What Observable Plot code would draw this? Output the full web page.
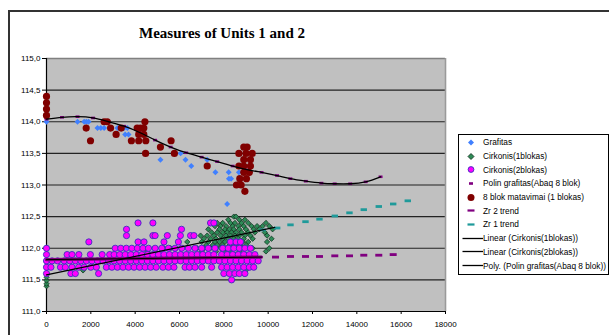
<!DOCTYPE html>
<html><head><meta charset="utf-8">
<script src="https://cdn.jsdelivr.net/npm/d3@7"></script>
<script src="https://cdn.jsdelivr.net/npm/@observablehq/plot@0.6"></script>
<style>
body{margin:0;width:609px;height:335px;overflow:hidden;background:#fff;position:relative;font-family:"Liberation Sans",Arial,sans-serif}
#frame{position:absolute;left:8px;top:10px;width:700px;height:400px;border:2px solid #333;box-sizing:border-box}
#chart{position:absolute;left:0;top:0}
#title{position:absolute;left:0;top:25px;width:444px;text-align:center;font:bold 15px/17px "Liberation Serif","Times New Roman",serif;color:#000}
#legend{position:absolute;left:458px;top:134px;width:151px;height:141px;border:1px solid #000;box-sizing:border-box;background:#fff;font-size:8.3px;padding-top:0.5px;color:#000}
.li{height:13.7px;display:flex;align-items:center;white-space:nowrap}
.li svg{flex:none;display:block}
</style></head><body>
<div id="frame"></div>
<div id="chart"></div>
<div id="title">Measures of Units 1 and 2</div>
<div id="legend"></div>
<script>
// ---- data ----
const xTicks = [0, 2000, 4000, 6000, 8000, 10000, 12000, 14000, 16000, 18000];
const yTicks = [111.0, 111.5, 112.0, 112.5, 113.0, 113.5, 114.0, 114.5, 115.0];

const grafitas = [[0,114.0],[1400,114.0],[1700,114.0],[1800,114.0],[1900,114.0],[2300,113.9],[2450,113.9],[2600,113.9],
  [3200,113.9],[3500,113.9],[3650,113.9],[3550,113.8],[3700,113.8],[5140,113.4],[6050,113.5],[6270,113.4],[6530,113.3],
  [7250,113.4],[7620,113.2],[8220,113.2],[8230,113.1],[8330,113.1],[8680,113.2],[8600,113.0],[8150,112.7]];

const cirk1Rows = [
  [111.40,[0]],[111.44,[0]],[111.49,[0]],[111.54,[0]],
  [112.5,[8450,8550]],
  [112.45,[8200,8700,8950]],
  [112.4,[7400,7700,7950,8300,8500,8800,9100,9900]],
  [112.35,[7600,7850,8100,8400,8650,8900,9250,9500,9750,10050]],
  [112.3,[7300,7800,8050,8250,8450,8700,9000,9350,9600,10200]],
  [112.25,[7450,7700,7950,8150,8350,8550,8800,9100,9400,9850]],
  [112.2,[6950,7250,7550,7850,8100,8300,8500,8700,8950,9200,9950]],
  [112.15,[7100,7400,7650,7950,8200,8450,8650,8900,9300,10150]],
  [112.1,[6350,7000,7300,7600,7800,8050,8350,8600,8850,9100,9950]],
  [112.05,[7200,7500,7700,7950,8250,8500,8750,9000]],
  [112.0,[5300,5600,6800,7100,7400,7850,8100,8400,8800,9300,10050]],
  [111.95,[4550,7000,7650,8000,8300,8700,9900]],
  [111.9,[6600,7300,7900,8500,9000]],
  [111.8,[7100,8700,9100]],
  [111.7,[6500,9200]],
  [111.65,[1650,9000]],
  [111.6,[8900]]
];

const cirk2Rows = [
  [112.4,[4130,4800,7400,7550]],
  [112.3,[3610,6090]],
  [112.2,[3610,4800,4900,5450,6040,6500,6650]],
  [112.1,[1910,4130,4400,5300,5950,8300,8550,8750]],
  [112.0,[0,3100,3350,3600,3850,4100,4350,4600,4900,5200,5500,5800,6100,6400,6700,7000,7300,7600,7950,8200,8450,8700,8950,9200]],
  [111.9,[0,930,1150,1460,1980,2510,2850,3050,3300,3550,3800,4050,4300,4550,4800,5050,5300,5550,5800,6050,6300,6550,6800,7050,7300,7550,7900,8150,8400,8650,8900,9150,9400]],
  [111.8,[0,250,500,800,1050,1300,1550,1800,2050,2300,2550,2800,3050,3300,3550,3800,4050,4300,4550,4800,5050,5300,5550,5800,6050,6300,6550,6800,7050,7300,7550,7800,8050,8300,8550,8800,9050,9300,9550]],
  [111.7,[0,200,630,850,1150,1450,1700,2000,2250,2700,2950,3200,3450,3700,3950,4200,4450,4700,4950,5250,5500,5750,6250,6450,6700,7000,7450,7900,8150,8400,8650,8900,9150,9350]],
  [111.6,[0,1100,1300,2350,8000,8250,8500,8700,8950]],
  [111.5,[8350]]
];

const blok8 = [[0,114.4],[0,114.3],[0,114.2],[0,114.1],[1790,113.9],[1985,113.7],[2600,114.0],[2740,114.0],[2890,113.9],
  [3140,113.8],[3370,113.9],[3830,113.7],[4090,113.9],[4240,113.9],[4390,113.9],[4160,113.8],[4390,113.8],[4160,113.7],
  [4480,113.7],[4440,114.0],[4470,113.5],[5140,113.6],[5620,113.7],[5770,113.5],[7250,113.3],
  [8900,113.6],[9050,113.6],[8680,113.5],[9000,113.5],[9280,113.5],[8900,113.4],[9200,113.4],[8680,113.3],[8900,113.3],
  [9200,113.3],[8900,113.2],[9150,113.2],[8720,113.1],[9020,113.1],[8570,113.0],[8780,113.0],[8950,112.9]];

const polinX = [0,700,1400,2100,2800,3500,4200,4900,5600,6300,7000,7700,8400,9100,9700,10400,11000,11700,12400,13000,13700,14400,15070];
const polinY = [114.04,114.07,114.08,114.06,114.0,113.93,113.83,113.71,113.6,113.51,113.44,113.37,113.3,113.24,113.2,113.15,113.1,113.06,113.03,113.02,113.02,113.05,113.13];

const zr2BandX = [0, 9700];
const zr2BandY = [111.82, 111.86];
const zr2X = [10330,11007,11684,12315,13006,13668,14313,14990,15640];
const zr2Y = [111.86,111.87,111.87,111.87,111.88,111.88,111.89,111.89,111.90];

const zr1X = [9750,10407,11007,11684,12315,13006,13668,14313,14990,15640,16298];
const zr1Y = [112.29,112.32,112.37,112.42,112.46,112.51,112.56,112.61,112.66,112.70,112.75];

const lin1X = [0, 10300], lin1Y = [111.58, 112.33];
const lin2X = [0, 9700], lin2Y = [111.82, 111.86];

const legendItems = [
  ["Grafitas","diamond","#4080ff"],
  ["Cirkonis(1blokas)","diamondO","#2e8b57"],
  ["Cirkonis(2blokas)","circleO","#ff00ff"],
  ["Polin grafitas(Abaq 8 blok)","smalldash","#800080"],
  ["8 blok matavimai (1 blokas)","circle","#800000"],
  ["Zr 2 trend","dash","#800080"],
  ["Zr 1 trend","dash","#1f9a9a"],
  ["Linear (Cirkonis(1blokas))","line","#000"],
  ["Linear (Cirkonis(2blokas))","line","#000"],
  ["Poly. (Polin grafitas(Abaq 8 blok))","line","#000"]
];

// ---- build ----
const cirk1 = cirk1Rows.flatMap(([y, xs]) => xs.map(x => [x, y]));
const cirk2 = cirk2Rows.flatMap(([y, xs]) => xs.map(x => [x, y]));
const zip = (a, b) => a.map((v, i) => [v, b[i]]);
const polin = zip(polinX, polinY);
const zr2Band = zip(zr2BandX, zr2BandY), zr2 = zip(zr2X, zr2Y), zr1 = zip(zr1X, zr1Y);
const lin1 = zip(lin1X, lin1Y), lin2 = zip(lin2X, lin2Y);
const X = d => d[0], Y = d => d[1];
const dashSym = (hw, hh) => ({draw(ctx){ctx.moveTo(-hw,-hh);ctx.lineTo(hw,-hh);ctx.lineTo(hw,hh);ctx.lineTo(-hw,hh);ctx.closePath();}});
const fmt = d => d.toFixed(1).replace(".", ",");

const chart = Plot.plot({
  width: 609, height: 335,
  marginLeft: 46, marginRight: 164, marginTop: 58, marginBottom: 24,
  style: {background: "transparent", fontFamily: "Liberation Sans, Arial, sans-serif", fontSize: "8px", color: "#000"},
  x: {domain: [0, 18000], label: null},
  y: {domain: [111, 115], label: null},
  marks: [
    Plot.frame({fill: "#c0c0c0", stroke: null}),
    Plot.gridY(yTicks.filter(v => v > 111 && v < 115), {stroke: "#111", strokeOpacity: 0.9, strokeWidth: 1.1}),
    Plot.ruleY([115], {stroke: "#808080", strokeWidth: 1.6}),
    Plot.ruleX([18000], {stroke: "#9a9a9a", strokeWidth: 1.6}),
    Plot.axisY({ticks: yTicks, tickSize: 4, tickPadding: 2, tickFormat: fmt, label: null}),
    Plot.axisX({ticks: xTicks, tickSize: 3, tickPadding: 7, tickFormat: d => String(d), label: null}),
    Plot.ruleX([0], {stroke: "#000", strokeWidth: 1.2}),
    Plot.ruleY([111], {stroke: "#000", strokeWidth: 1.2}),
    Plot.dot(grafitas, {x: X, y: Y, symbol: "diamond2", r: 2.7, fill: "#4080ff"}),
    Plot.dot(cirk1, {x: X, y: Y, symbol: "diamond2", r: 2.4, fill: "#2e8b57", stroke: "#0b2a18", strokeWidth: 0.7}),
    Plot.dot(cirk2, {x: X, y: Y, r: 3.1, fill: "#ff00ff", stroke: "#3c2fc0", strokeWidth: 0.9}),
    Plot.dot(polin, {x: X, y: Y, symbol: dashSym(2, 1.3), fill: "#800080"}),
    Plot.dot(blok8, {x: X, y: Y, r: 3.6, fill: "#800000"}),
    Plot.line(zr2Band, {x: X, y: Y, stroke: "#800080", strokeWidth: 3.2}),
    Plot.dot(zr2, {x: X, y: Y, symbol: dashSym(3.5, 1.4), fill: "#800080"}),
    Plot.dot(zr1, {x: X, y: Y, symbol: dashSym(3.2, 1.4), fill: "#1f9a9a"}),
    Plot.line(lin1, {x: X, y: Y, stroke: "#000", strokeWidth: 1.2}),
    Plot.line(lin2, {x: X, y: Y, stroke: "#000", strokeWidth: 1}),
    Plot.line(polin, {x: X, y: Y, stroke: "#000", strokeWidth: 1.3, curve: "natural"})
  ]
});
document.getElementById("chart").appendChild(chart);

// legend
const ns = "http://www.w3.org/2000/svg";
const leg = document.getElementById("legend");
for (const [label, kind, color] of legendItems) {
  const row = document.createElement("div");
  row.className = "li";
  const svg = document.createElementNS(ns, "svg");
  svg.setAttribute("width", 24); svg.setAttribute("height", 13);
  let el;
  const cx = 12, cy = 6.5;
  if (kind === "diamond" || kind === "diamondO") {
    el = document.createElementNS(ns, "polygon");
    const r = 3;
    el.setAttribute("points", `${cx},${cy-r} ${cx+r},${cy} ${cx},${cy+r} ${cx-r},${cy}`);
    el.setAttribute("fill", color);
    if (kind === "diamondO") { el.setAttribute("stroke", "#0b2a18"); el.setAttribute("stroke-width", 0.8); }
  } else if (kind === "circle" || kind === "circleO") {
    el = document.createElementNS(ns, "circle");
    el.setAttribute("cx", cx); el.setAttribute("cy", cy);
    el.setAttribute("r", kind === "circle" ? 3.5 : 2.9);
    el.setAttribute("fill", color);
    if (kind === "circleO") { el.setAttribute("stroke", "#3c2fc0"); el.setAttribute("stroke-width", 0.9); }
  } else if (kind === "smalldash" || kind === "dash") {
    el = document.createElementNS(ns, "rect");
    const w = kind === "dash" ? 7 : 4, h = kind === "dash" ? 2.2 : 2.6;
    el.setAttribute("x", cx - w/2); el.setAttribute("y", cy - h/2);
    el.setAttribute("width", w); el.setAttribute("height", h);
    el.setAttribute("fill", color);
  } else {
    el = document.createElementNS(ns, "line");
    el.setAttribute("x1", 3.5); el.setAttribute("x2", 24);
    el.setAttribute("y1", cy); el.setAttribute("y2", cy);
    el.setAttribute("stroke", color); el.setAttribute("stroke-width", 1.3);
  }
  svg.appendChild(el);
  row.appendChild(svg);
  const span = document.createElement("span");
  span.textContent = label;
  row.appendChild(span);
  leg.appendChild(row);
}
</script>
</body></html>
